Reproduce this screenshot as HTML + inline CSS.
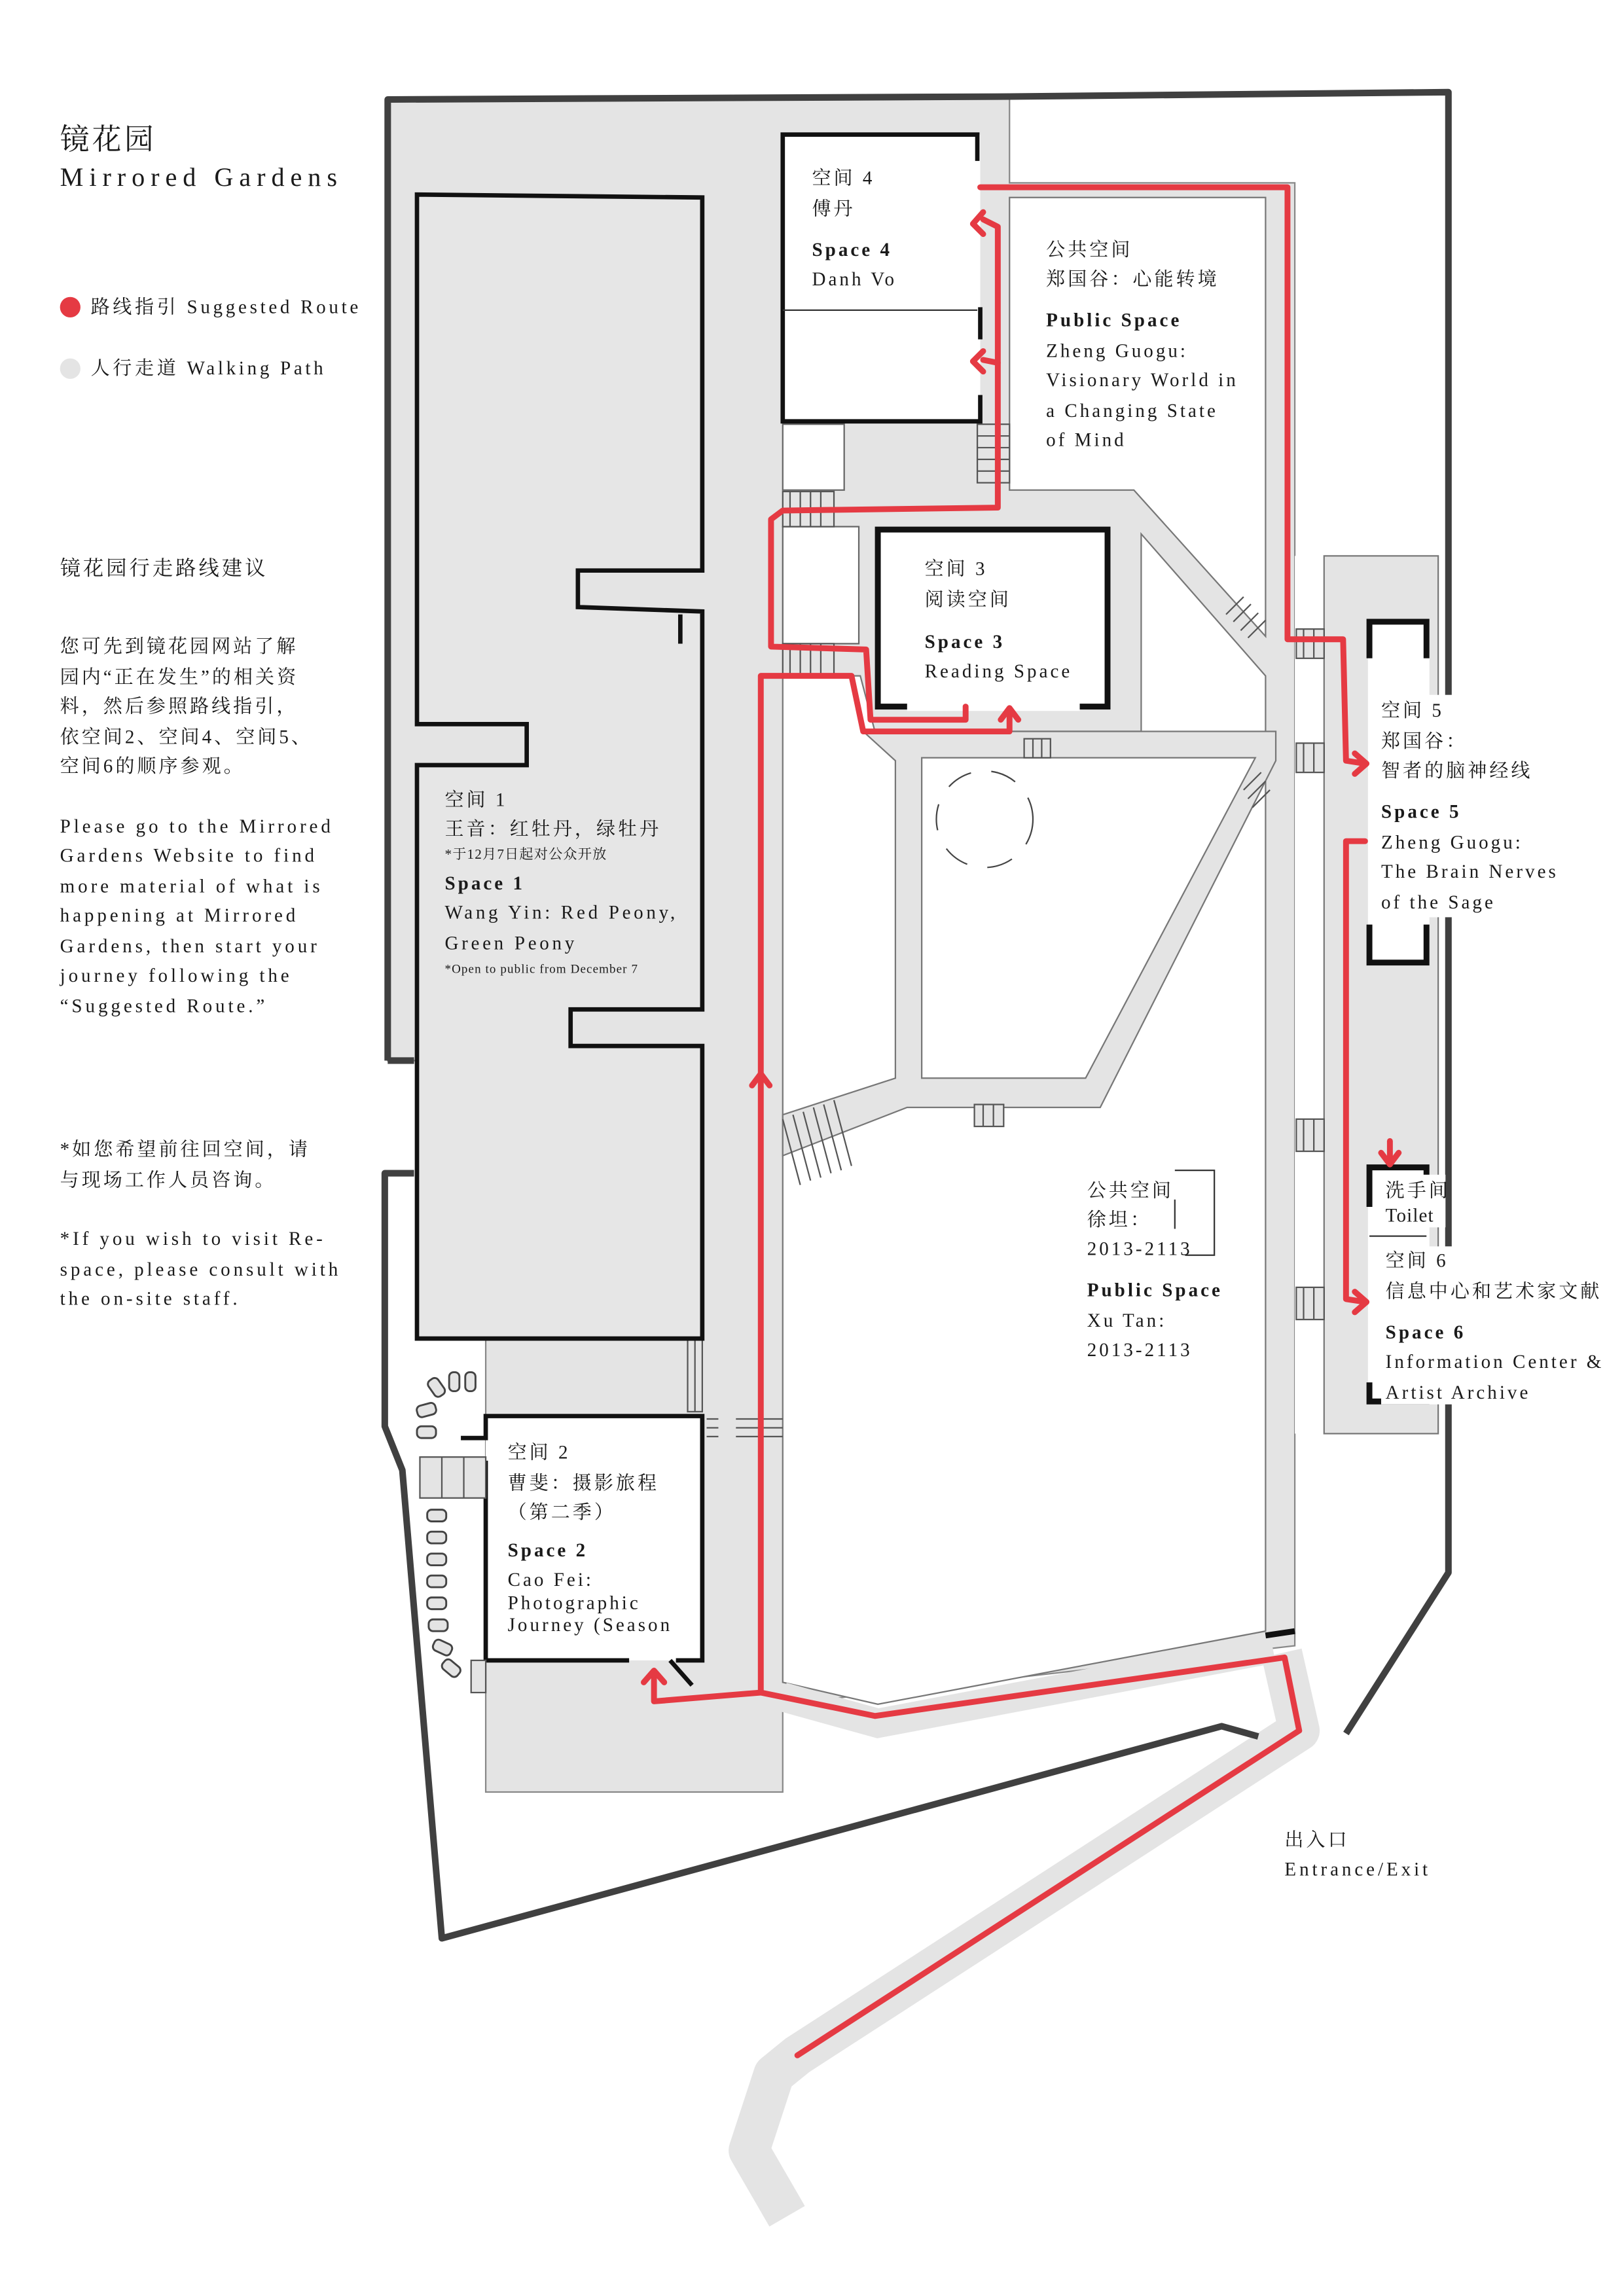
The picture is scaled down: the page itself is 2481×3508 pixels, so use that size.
<!DOCTYPE html>
<html><head><meta charset="utf-8"><style>
html,body{margin:0;padding:0;background:#fff;}
svg{display:block;}
text{font-family:"Liberation Serif","Noto Serif CJK SC","Noto Sans CJK SC",serif;fill:#1a1a1a;font-size:13px;letter-spacing:1.8px;}
.s{font-size:9.5px;letter-spacing:0.5px;}
.b{font-weight:bold;}
</style></head><body>
<svg width="2481" height="3508" viewBox="0 0 1110 1569.5" preserveAspectRatio="none" xmlns="http://www.w3.org/2000/svg">
<rect width="1110" height="1570" fill="#fff"/>
<polygon points="265,68 690,66 690,125 885,125 885,1125 535,1165 535,1225 332,1225 332,915 285,915 285,725 265,725" fill="#e4e4e4" stroke="#888" stroke-width="1"/>
<polygon points="690,135 865,135 865,435 775,335 690,335" fill="#fff" stroke="#777" stroke-width="1"/>
<polygon points="535,462 588,462 598,500 780,500 780,365 865,462 865,1115 600,1165 535,1150" fill="#fff" stroke="#777" stroke-width="1"/>
<polygon points="590,500 872,500 872,520 752,757 620,757 535,790 535,762 612,737 612,520" fill="#e4e4e4" stroke="#777" stroke-width="1"/>
<polygon points="630,518 858,518 742,737 630,737" fill="#fff" stroke="#777" stroke-width="1"/>
<circle cx="673" cy="560" r="33" fill="none" stroke="#444" stroke-width="1" stroke-dasharray="18 14"/>
<rect x="535" y="290" width="42" height="45" fill="#fff" stroke="#666" stroke-width="1"/>
<rect x="535" y="360" width="52" height="80" fill="#fff" stroke="#666" stroke-width="1"/>
<polyline points="535,1160 600,1178 870,1127" fill="none" stroke="#e4e4e4" stroke-width="20"/>
<polyline points="538,1515 512,1470 529,1418 545,1405 888,1183 876,1130" fill="none" stroke="#e4e4e4" stroke-width="28" stroke-linejoin="round"/>
<rect x="885" y="380" width="20" height="600" fill="#fff"/>
<rect x="905" y="380" width="78" height="600" fill="#e4e4e4" stroke="#777" stroke-width="1"/>
<rect x="935" y="425" width="42" height="235" fill="#fff"/>
<rect x="935" y="800" width="42" height="160" fill="#fff"/>
<g stroke="#555" stroke-width="1" fill="#e4e4e4">
<rect x="886" y="430" width="19" height="20"/><rect x="886" y="508" width="19" height="20"/><rect x="886" y="765" width="19" height="22"/><rect x="886" y="880" width="19" height="22"/>
<rect x="535" y="336" width="35" height="24"/><rect x="535" y="440" width="35" height="22"/>
<rect x="668" y="290" width="22" height="40"/>
<rect x="700" y="505" width="18" height="13"/><rect x="666" y="755" width="20" height="15"/>
<rect x="470" y="915" width="10" height="50"/>
</g>
<g stroke="#555" stroke-width="1">
<path d="M540,336v24M547,336v24M554,336v24M561,336v24M540,440v22M547,440v22M554,440v22M561,440v22M668,298h22M668,306h22M668,314h22M668,322h22M706,505v13M712,505v13M672,755v15M679,755v15M891,430v20M898,430v20M891,508v20M898,508v20M891,765v22M898,765v22M891,880v22M898,880v22M475,915v50"/>
<path d="M483,970h8M483,976h8M483,982h8M503,970h32M503,976h32M503,982h32"/>
<path d="M838,420l12,-12M843,425l12,-12M848,431l12,-12M853,436l12,-12M850,540l12,-12M853,546l12,-12M856,552l12,-12M535,765l12,45M542,762l12,45M549,760l12,45M556,757l12,45M563,755l12,45M570,752l12,45"/>
</g>
<polygon points="285,133 480,135 480,390 395,390 395,415 480,418 480,690 390,690 390,715 480,715 480,915 285,915 285,523 360,523 360,495 285,495" fill="#e6e6e6" stroke="#111" stroke-width="3"/>
<path d="M465,420v20" stroke="#111" stroke-width="3"/>
<rect x="535" y="92" width="135" height="196" fill="#fff"/>
<path d="M668,110V92H535V288H670V270M670,210V232" fill="none" stroke="#111" stroke-width="3"/>
<path d="M535,212H668" stroke="#333" stroke-width="1"/>
<rect x="600" y="362" width="157" height="121" fill="#fff" stroke="#111" stroke-width="4"/>
<rect x="620" y="478" width="118" height="8" fill="#fff"/>
<path d="M936,450V425H975V450M936,632V658H975V632M936,825V798H975V812M936,945V958H975V945" fill="none" stroke="#111" stroke-width="4"/>
<path d="M936,845H975" stroke="#333" stroke-width="1"/>
<rect x="332" y="968" width="148" height="167" fill="#fff"/>
<path d="M315,983H332V968H480V1135H462M430,1135H332V1000H315M458,1135l15,17" fill="none" stroke="#111" stroke-width="3"/>
<rect x="287" y="996" width="45" height="28" fill="#e4e4e4" stroke="#555" stroke-width="1"/>
<path d="M302,996v28M317,996v28" stroke="#555"/>
<rect x="322" y="1135" width="10" height="22" fill="#e4e4e4" stroke="#555"/>
<g fill="#e4e4e4" stroke="#444" stroke-width="1.3">
<rect x="307" y="938" width="7" height="13" rx="3"/><rect x="318" y="938" width="7" height="13" rx="3"/>
<rect x="294" y="942" width="8" height="13" rx="3" transform="rotate(-35 298 948)"/>
<rect x="285" y="960" width="13" height="8" rx="3" transform="rotate(-15 291 964)"/>
<rect x="285" y="975" width="13" height="8" rx="3"/>
<rect x="292" y="1032" width="13" height="8" rx="3"/><rect x="292" y="1047" width="13" height="8" rx="3"/><rect x="292" y="1062" width="13" height="8" rx="3"/><rect x="292" y="1077" width="13" height="8" rx="3"/><rect x="292" y="1092" width="13" height="8" rx="3"/><rect x="293" y="1107" width="13" height="8" rx="3"/>
<rect x="296" y="1122" width="13" height="8" rx="3" transform="rotate(25 302 1126)"/>
<rect x="302" y="1136" width="13" height="8" rx="3" transform="rotate(40 308 1140)"/>
</g>
<g fill="none" stroke="#404040" stroke-width="4.5" stroke-linejoin="round">
<path d="M265,725V68L690,66L990,63V1075L920,1185"/>
<path d="M283,725H265"/>
<path d="M283,802H263V975L275,1005L302,1325L835,1180L860,1187"/>
</g>
<path d="M865,1118l20,-3" stroke="#111" stroke-width="4"/>
<path d="M803,800H830V858H810M803,820V840" fill="none" stroke="#333" stroke-width="1"/>
<g fill="none" stroke="#e53a43" stroke-width="4" stroke-linejoin="round" stroke-linecap="round">
<polyline points="545,1405 888,1183 878,1133 598,1173 520,1157 447,1163 447,1143"/>
<polyline points="520,1157 520,462 582,462 590,500 690,500 690,485"/>
<polyline points="660,483 660,492 595,492 592,444 527,442 527,355 535,349 682,347 682,155 672,150"/>
<polyline points="682,248 672,246"/>
<polyline points="670,128 880,128 880,437 918,437 920,520 933,522"/>
<polyline points="933,575 920,575 920,888 933,890"/>
<polyline points="950,780 950,795"/>
<path d="M440,1150l7,-8l7,8M684,492l6,-8l6,8M672,145l-7,8l7,7M672,240l-7,7l7,7M926,515l8,7l-8,7M926,883l8,7l-8,7M944,788l6,8l6,-8M514,742l6,-8l6,8"/>
</g>
<text x="41" y="102" style="font-size:20px;letter-spacing:2px">镜花园</text>
<text x="41" y="127" style="font-size:18px;letter-spacing:4px">Mirrored Gardens</text>
<circle cx="48" cy="210" r="7" fill="#e53a43"/>
<text x="62" y="214" style="letter-spacing:2.1px">路线指引 Suggested Route</text>
<circle cx="48" cy="252" r="7" fill="#e4e4e4"/>
<text x="62" y="256" style="letter-spacing:2.1px">人行走道 Walking Path</text>
<text x="41" y="393" style="font-size:14px">镜花园行走路线建议</text>
<text x="41" y="446">您可先到镜花园网站了解</text>
<text x="41" y="467">园内“正在发生”的相关资</text>
<text x="41" y="487">料，然后参照路线指引，</text>
<text x="41" y="508">依空间2、空间4、空间5、</text>
<text x="41" y="528">空间6的顺序参观。</text>
<text x="41" y="569" style="letter-spacing:2.2px">Please go to the Mirrored</text>
<text x="41" y="589" style="letter-spacing:2.2px">Gardens Website to find</text>
<text x="41" y="610" style="letter-spacing:2.2px">more material of what is</text>
<text x="41" y="630" style="letter-spacing:2.2px">happening at Mirrored</text>
<text x="41" y="651" style="letter-spacing:2.2px">Gardens, then start your</text>
<text x="41" y="671" style="letter-spacing:2.2px">journey following the</text>
<text x="41" y="692" style="letter-spacing:2.2px">“Suggested Route.”</text>
<text x="41" y="790">*如您希望前往回空间，请</text>
<text x="41" y="811">与现场工作人员咨询。</text>
<text x="41" y="851" style="letter-spacing:2.2px">*If you wish to visit Re-</text>
<text x="41" y="872" style="letter-spacing:2.2px">space, please consult with</text>
<text x="41" y="892" style="letter-spacing:2.2px">the on-site staff.</text>
<text x="555" y="126">空间 4</text><text x="555" y="147">傅丹</text>
<text x="555" y="175" class="b">Space 4</text><text x="555" y="195">Danh Vo</text>
<text x="715" y="175">公共空间</text><text x="715" y="195">郑国谷：心能转境</text>
<text x="715" y="223" class="b">Public Space</text><text x="715" y="244">Zheng Guogu:</text><text x="715" y="264">Visionary World in</text><text x="715" y="285">a Changing State</text><text x="715" y="305">of Mind</text>
<text x="632" y="393">空间 3</text><text x="632" y="414">阅读空间</text>
<text x="632" y="443" class="b">Space 3</text><text x="632" y="463">Reading Space</text>
<text x="304" y="551">空间 1</text><text x="304" y="571">王音：红牡丹，绿牡丹</text>
<text x="304" y="587" class="s">*于12月7日起对公众开放</text>
<text x="304" y="608" class="b">Space 1</text><text x="304" y="628" style="letter-spacing:2.1px">Wang Yin: Red Peony,</text><text x="304" y="649" style="letter-spacing:2.1px">Green Peony</text>
<text x="304" y="665" class="s" style="font-size:8.5px">*Open to public from December 7</text>
<rect x="940" y="475" width="160" height="152" fill="#fff"/>
<text x="944" y="490">空间 5</text><text x="944" y="511">郑国谷：</text><text x="944" y="531">智者的脑神经线</text>
<text x="944" y="559" class="b">Space 5</text><text x="944" y="580">Zheng Guogu:</text><text x="944" y="600">The Brain Nerves</text><text x="944" y="621">of the Sage</text>
<rect x="944" y="803" width="44" height="36" fill="#fff"/>
<text x="947" y="818">洗手间</text><text x="947" y="835" style="letter-spacing:0.5px">Toilet</text>
<rect x="944" y="852" width="160" height="108" fill="#fff"/>
<text x="947" y="866">空间 6</text><text x="947" y="887">信息中心和艺术家文献</text>
<text x="947" y="915" class="b">Space 6</text><text x="947" y="935">Information Center &amp;</text><text x="947" y="956">Artist Archive</text>
<text x="743" y="818">公共空间</text><text x="743" y="838">徐坦：</text><text x="743" y="858">2013-2113</text>
<text x="743" y="886" class="b">Public Space</text><text x="743" y="907">Xu Tan:</text><text x="743" y="927">2013-2113</text>
<text x="347" y="997">空间 2</text><text x="347" y="1018">曹斐：摄影旅程</text><text x="347" y="1038">（第二季）</text>
<text x="347" y="1064" class="b">Space 2</text><text x="347" y="1084">Cao Fei:</text><text x="347" y="1100">Photographic</text><text x="347" y="1115">Journey (Season</text>
<text x="878" y="1262">出入口</text><text x="878" y="1282" style="letter-spacing:2.2px">Entrance/Exit</text>
</svg>
</body></html>
